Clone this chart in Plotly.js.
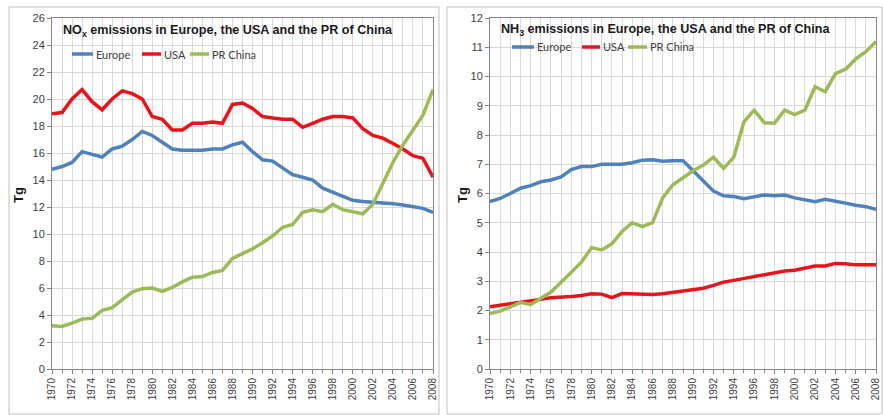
<!DOCTYPE html>
<html>
<head>
<meta charset="utf-8">
<script src="https://cdn.plot.ly/plotly-3.0.1.min.js"></script>
<style>html,body{margin:0;padding:0;background:#fff;}#chart{width:883px;height:415px;}</style>
</head>
<body>
<div id="chart"></div>
<script>
var years = [1970,1971,1972,1973,1974,1975,1976,1977,1978,1979,
             1980,1981,1982,1983,1984,1985,1986,1987,1988,1989,
             1990,1991,1992,1993,1994,1995,1996,1997,1998,1999,
             2000,2001,2002,2003,2004,2005,2006,2007,2008];
var seriesNames = ["Europe", "USA", "PR China"];

var noxEurope = [14.8,15.0,15.3,16.1,15.9,15.7,16.3,16.5,17.0,17.6,
                 17.3,16.8,16.3,16.2,16.2,16.2,16.3,16.3,16.6,16.8,
                 16.1,15.5,15.4,14.9,14.4,14.2,14.0,13.4,13.1,12.8,
                 12.5,12.4,12.35,12.35,12.25,12.15,12.05,11.9,11.6];
var noxUSA = [18.9,19.0,20.0,20.7,19.8,19.2,20.0,20.6,20.4,20.0,
              18.7,18.5,17.7,17.7,18.2,18.2,18.3,18.2,19.6,19.7,
              19.3,18.7,18.6,18.5,18.5,17.9,18.2,18.5,18.7,18.7,
              18.6,17.8,17.3,17.1,16.7,16.3,15.8,15.6,14.2];
var noxChina = [3.2,3.15,3.4,3.7,3.75,4.35,4.55,5.1,5.7,5.95,
                6.0,5.75,6.05,6.45,6.8,6.85,7.15,7.3,8.2,8.55,
                8.9,9.35,9.85,10.5,10.7,11.6,11.8,11.65,12.2,11.8,
                11.65,11.5,12.2,13.7,15.3,16.6,17.7,18.8,20.7];

var nh3Europe = [5.72,5.83,6.0,6.18,6.27,6.4,6.46,6.57,6.82,6.92,
                 6.92,7.0,7.0,7.0,7.05,7.14,7.15,7.1,7.12,7.12,
                 6.78,6.45,6.08,5.92,5.9,5.82,5.9,5.95,5.92,5.95,
                 5.85,5.78,5.72,5.8,5.72,5.67,5.6,5.55,5.46];
var nh3USA = [2.13,2.18,2.22,2.28,2.3,2.38,2.44,2.45,2.48,2.51,
              2.57,2.56,2.44,2.58,2.57,2.55,2.55,2.57,2.61,2.67,
              2.7,2.76,2.86,2.97,3.03,3.1,3.17,3.21,3.29,3.35,
              3.38,3.44,3.52,3.52,3.61,3.6,3.56,3.56,3.56];
var nh3China = [1.9,1.98,2.12,2.28,2.2,2.42,2.63,2.97,3.32,3.65,
                4.15,4.07,4.28,4.7,5.0,4.87,5.0,5.85,6.3,6.55,
                6.78,6.97,7.24,6.86,7.24,8.45,8.85,8.42,8.4,8.85,
                8.7,8.85,9.65,9.48,10.1,10.25,10.6,10.85,11.2];

var colors = ["#4F81BD", "#E8141C", "#9BBB59"];
var W = 883, H = 415;
function px(x){ return x / W; }
function py(y){ return 1 - y / H; }

var leftData = [noxEurope, noxUSA, noxChina];
var rightData = [nh3Europe, nh3USA, nh3China];
var traces = [];
for (var i = 0; i < 3; i++) {
  traces.push({x: years, y: leftData[i], type: 'scatter', mode: 'lines', name: seriesNames[i],
    line: {color: colors[i], width: 3.5}, xaxis: 'x', yaxis: 'y', showlegend: false, hoverinfo: 'skip'});
}
for (var i = 0; i < 3; i++) {
  traces.push({x: years, y: rightData[i], type: 'scatter', mode: 'lines', name: seriesNames[i],
    line: {color: colors[i], width: 3.5}, xaxis: 'x2', yaxis: 'y2', showlegend: false, hoverinfo: 'skip'});
}

var gridC = '#D9D9D9', axisC = '#868686', tickC = '#404040';
function xAx(dom, anchor) {
  return {domain: dom, anchor: anchor, range: [1970, 2008], tick0: 1970, dtick: 2,
    tickangle: -90, showgrid: true, gridcolor: gridC, gridwidth: 1,
    minor: {dtick: 1, showgrid: true, gridcolor: gridC, ticks: 'outside', ticklen: 3, tickcolor: axisC},
    ticks: 'outside', ticklen: 4, tickcolor: axisC,
    showline: true, linecolor: axisC, linewidth: 1, mirror: true, zeroline: false,
    tickfont: {family: 'Liberation Sans, Arial, sans-serif', size: 10, color: tickC}, automargin: false, fixedrange: true};
}
function yAx(range, dtick, anchor) {
  return {domain: [py(369), py(18)], anchor: anchor, range: range, dtick: dtick, tick0: 0,
    showgrid: true, gridcolor: gridC, ticks: 'outside', ticklen: 4, tickcolor: axisC,
    showline: true, linecolor: axisC, linewidth: 1, mirror: true, zeroline: false,
    tickfont: {family: 'Liberation Sans, Arial, sans-serif', size: 11, color: tickC}, automargin: false, fixedrange: true};
}

var shapes = [
  {type: 'rect', xref: 'paper', yref: 'paper', x0: px(9), x1: px(439), y0: py(414), y1: py(7), line: {color: '#BFBFBF', width: 1}},
  {type: 'rect', xref: 'paper', yref: 'paper', x0: px(447), x1: px(882), y0: py(414), y1: py(7), line: {color: '#BFBFBF', width: 1}}
];
var annotations = [];
var legFont = {family: 'Lato, Liberation Sans, sans-serif', size: 11, color: '#404040'};
var leftLeg = [[72, 93], [142, 161], [190, 209]];
var rightLeg = [[512, 534], [582, 600], [628, 647]];
for (var i = 0; i < 3; i++) {
  shapes.push({type: 'line', xref: 'paper', yref: 'paper', x0: px(leftLeg[i][0]), x1: px(leftLeg[i][1]), y0: py(54), y1: py(54), line: {color: colors[i], width: 3.5}});
  annotations.push({xref: 'paper', yref: 'paper', x: px(leftLeg[i][1] + 1), y: py(54), xanchor: 'left', yanchor: 'middle', showarrow: false, text: seriesNames[i], font: legFont});
  shapes.push({type: 'line', xref: 'paper', yref: 'paper', x0: px(rightLeg[i][0]), x1: px(rightLeg[i][1]), y0: py(47), y1: py(47), line: {color: colors[i], width: 3.5}});
  annotations.push({xref: 'paper', yref: 'paper', x: px(rightLeg[i][1] + 1), y: py(47), xanchor: 'left', yanchor: 'middle', showarrow: false, text: seriesNames[i], font: legFont});
}
var titleFont = {family: 'Liberation Sans, Arial, sans-serif', size: 12.6, color: '#1a1a1a'};
annotations.push({xref: 'paper', yref: 'paper', x: px(61), y: py(31), xanchor: 'left', yanchor: 'middle', showarrow: false,
  text: '<b>NO<sub>x</sub> emissions in Europe, the USA and the PR of China</b>', font: titleFont});
annotations.push({xref: 'paper', yref: 'paper', x: px(499), y: py(30), xanchor: 'left', yanchor: 'middle', showarrow: false,
  text: '<b>NH<sub>3</sub> emissions in Europe, the USA and the PR of China</b>', font: titleFont});
var tgFont = {family: 'Liberation Sans, Arial, sans-serif', size: 13, color: '#1a1a1a'};
annotations.push({xref: 'paper', yref: 'paper', x: px(18), y: py(195), xanchor: 'center', yanchor: 'middle', showarrow: false, textangle: -90, text: '<b>Tg</b>', font: tgFont});
annotations.push({xref: 'paper', yref: 'paper', x: px(462), y: py(195), xanchor: 'center', yanchor: 'middle', showarrow: false, textangle: -90, text: '<b>Tg</b>', font: tgFont});

var layout = {
  width: W, height: H, margin: {l: 0, r: 0, t: 0, b: 0},
  paper_bgcolor: '#ffffff', plot_bgcolor: '#ffffff', showlegend: false,
  xaxis: xAx([px(52), px(433)], 'y'),
  yaxis: yAx([0, 26], 2, 'x'),
  xaxis2: xAx([px(490), px(876)], 'y2'),
  yaxis2: yAx([0, 12], 1, 'x2'),
  shapes: shapes, annotations: annotations
};
Plotly.newPlot('chart', traces, layout, {staticPlot: true, displayModeBar: false});
</script>
</body>
</html>
